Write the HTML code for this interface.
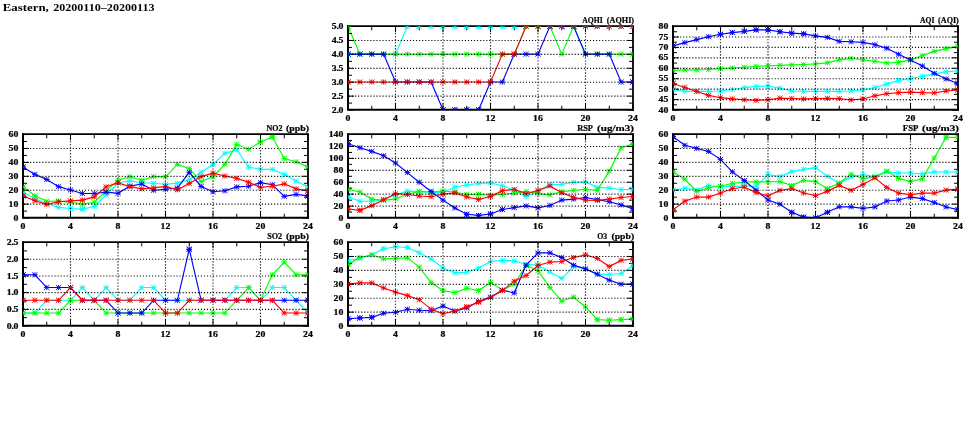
<!DOCTYPE html>
<html><head><meta charset="utf-8"><title>Eastern, 20200110-20200113</title>
<style>html,body{margin:0;padding:0;background:#fff;font-family:"Liberation Serif",serif}svg{display:block;will-change:transform;transform:translateZ(0)}</style>
</head><body>
<svg width="975" height="447" viewBox="0 0 975 447" font-family="'Liberation Serif', serif" font-weight="bold" fill="#000" stroke="#000" stroke-width="0.22"><defs><g id="m"><path d="M-2.6-2.4L2.6 2.4M-2.6 2.4L2.6-2.4M-2.8 0H2.8M0-2.5V2.5"/></g></defs>
<text x="2.8" y="10.7" font-size="10.9" stroke="none" textLength="46" lengthAdjust="spacingAndGlyphs">Eastern,</text>
<text x="53.2" y="10.7" font-size="10.9" stroke="none" textLength="101.3" lengthAdjust="spacingAndGlyphs">20200110–20200113</text>
<g><clipPath id="cp0"><rect x="348" y="26.3" width="285" height="83.5"/></clipPath><clipPath id="cp0b"><rect x="348.3" y="26.6" width="284.4" height="82.9"/></clipPath><g clip-path="url(#cp0)" fill="none" stroke-width="0.95"><g stroke="#00ffff"><polyline points="348,54.13 359.88,54.13 371.75,54.13 383.62,54.13 395.5,54.13 407.38,26.3 419.25,26.3 431.12,26.3 443,26.3 454.88,26.3 466.75,26.3 478.62,26.3 490.5,26.3 502.38,26.3 514.25,26.3 526.12,26.3 538,26.3 549.88,26.3 561.75,26.3 573.62,26.3 585.5,26.3 597.38,26.3 609.25,26.3 621.12,26.3 633,26.3" stroke-width="1.15"/><use href="#m" x="348" y="54.13"/><use href="#m" x="359.88" y="54.13"/><use href="#m" x="371.75" y="54.13"/><use href="#m" x="383.62" y="54.13"/><use href="#m" x="395.5" y="54.13"/><use href="#m" x="407.38" y="26.3"/><use href="#m" x="419.25" y="26.3"/><use href="#m" x="431.12" y="26.3"/><use href="#m" x="443" y="26.3"/><use href="#m" x="454.88" y="26.3"/><use href="#m" x="466.75" y="26.3"/><use href="#m" x="478.62" y="26.3"/><use href="#m" x="490.5" y="26.3"/><use href="#m" x="502.38" y="26.3"/><use href="#m" x="514.25" y="26.3"/><use href="#m" x="526.12" y="26.3"/><use href="#m" x="538" y="26.3"/><use href="#m" x="549.88" y="26.3"/><use href="#m" x="561.75" y="26.3"/><use href="#m" x="573.62" y="26.3"/><use href="#m" x="585.5" y="26.3"/><use href="#m" x="597.38" y="26.3"/><use href="#m" x="609.25" y="26.3"/><use href="#m" x="621.12" y="26.3"/><use href="#m" x="633" y="26.3"/></g><g stroke="#00ff00"><polyline points="348,26.3 359.88,54.13 371.75,54.13 383.62,54.13 395.5,54.13 407.38,54.13 419.25,54.13 431.12,54.13 443,54.13 454.88,54.13 466.75,54.13 478.62,54.13 490.5,54.13 502.38,54.13 514.25,54.13 526.12,26.3 538,26.3 549.88,26.3 561.75,54.13 573.62,26.3 585.5,54.13 597.38,54.13 609.25,54.13 621.12,54.13 633,54.13" stroke-width="1.15"/><use href="#m" x="348" y="26.3"/><use href="#m" x="359.88" y="54.13"/><use href="#m" x="371.75" y="54.13"/><use href="#m" x="383.62" y="54.13"/><use href="#m" x="395.5" y="54.13"/><use href="#m" x="407.38" y="54.13"/><use href="#m" x="419.25" y="54.13"/><use href="#m" x="431.12" y="54.13"/><use href="#m" x="443" y="54.13"/><use href="#m" x="454.88" y="54.13"/><use href="#m" x="466.75" y="54.13"/><use href="#m" x="478.62" y="54.13"/><use href="#m" x="490.5" y="54.13"/><use href="#m" x="502.38" y="54.13"/><use href="#m" x="514.25" y="54.13"/><use href="#m" x="526.12" y="26.3"/><use href="#m" x="538" y="26.3"/><use href="#m" x="549.88" y="26.3"/><use href="#m" x="561.75" y="54.13"/><use href="#m" x="573.62" y="26.3"/><use href="#m" x="585.5" y="54.13"/><use href="#m" x="597.38" y="54.13"/><use href="#m" x="609.25" y="54.13"/><use href="#m" x="621.12" y="54.13"/><use href="#m" x="633" y="54.13"/></g><g stroke="#0000ff"><polyline points="348,54.13 359.88,54.13 371.75,54.13 383.62,54.13 395.5,81.97 407.38,81.97 419.25,81.97 431.12,81.97 443,109.8 454.88,109.8 466.75,109.8 478.62,109.8 490.5,81.97 502.38,81.97 514.25,54.13 526.12,54.13 538,54.13 549.88,26.3 561.75,26.3 573.62,26.3 585.5,54.13 597.38,54.13 609.25,54.13 621.12,81.97 633,81.97" stroke-width="1.15"/><use href="#m" x="348" y="54.13"/><use href="#m" x="359.88" y="54.13"/><use href="#m" x="371.75" y="54.13"/><use href="#m" x="383.62" y="54.13"/><use href="#m" x="395.5" y="81.97"/><use href="#m" x="407.38" y="81.97"/><use href="#m" x="419.25" y="81.97"/><use href="#m" x="431.12" y="81.97"/><use href="#m" x="443" y="109.8"/><use href="#m" x="454.88" y="109.8"/><use href="#m" x="466.75" y="109.8"/><use href="#m" x="478.62" y="109.8"/><use href="#m" x="490.5" y="81.97"/><use href="#m" x="502.38" y="81.97"/><use href="#m" x="514.25" y="54.13"/><use href="#m" x="526.12" y="54.13"/><use href="#m" x="538" y="54.13"/><use href="#m" x="549.88" y="26.3"/><use href="#m" x="561.75" y="26.3"/><use href="#m" x="573.62" y="26.3"/><use href="#m" x="585.5" y="54.13"/><use href="#m" x="597.38" y="54.13"/><use href="#m" x="609.25" y="54.13"/><use href="#m" x="621.12" y="81.97"/><use href="#m" x="633" y="81.97"/></g><g stroke="#ff0000"><polyline points="348,81.97 359.88,81.97 371.75,81.97 383.62,81.97 395.5,81.97 407.38,81.97 419.25,81.97 431.12,81.97 443,81.97 454.88,81.97 466.75,81.97 478.62,81.97 490.5,81.97 502.38,54.13 514.25,54.13 526.12,26.3 538,26.3 549.88,26.3 561.75,26.3 573.62,26.3 585.5,26.3 597.38,26.3 609.25,26.3 621.12,26.3 633,26.3" stroke-width="1.15"/><use href="#m" x="348" y="81.97"/><use href="#m" x="359.88" y="81.97"/><use href="#m" x="371.75" y="81.97"/><use href="#m" x="383.62" y="81.97"/><use href="#m" x="395.5" y="81.97"/><use href="#m" x="407.38" y="81.97"/><use href="#m" x="419.25" y="81.97"/><use href="#m" x="431.12" y="81.97"/><use href="#m" x="443" y="81.97"/><use href="#m" x="454.88" y="81.97"/><use href="#m" x="466.75" y="81.97"/><use href="#m" x="478.62" y="81.97"/><use href="#m" x="490.5" y="81.97"/><use href="#m" x="502.38" y="54.13"/><use href="#m" x="514.25" y="54.13"/><use href="#m" x="526.12" y="26.3"/><use href="#m" x="538" y="26.3"/><use href="#m" x="549.88" y="26.3"/><use href="#m" x="561.75" y="26.3"/><use href="#m" x="573.62" y="26.3"/><use href="#m" x="585.5" y="26.3"/><use href="#m" x="597.38" y="26.3"/><use href="#m" x="609.25" y="26.3"/><use href="#m" x="621.12" y="26.3"/><use href="#m" x="633" y="26.3"/></g></g><path d="M348 25.4V110.8M347 109.8H634" stroke="#000" stroke-width="2" fill="none"/><path d="M347 26.2H633.9" stroke="#000" stroke-width="1.7" fill="none"/><path d="M633 25.4V110.8" stroke="#000" stroke-width="1.8" fill="none"/><path d="M348 110.05h6M633 110.05h-6M348 103.09h4M633 103.09h-4M348 96.13h6M633 96.13h-6M348 89.17h4M633 89.17h-4M348 82.22h6M633 82.22h-6M348 75.26h4M633 75.26h-4M348 68.3h6M633 68.3h-6M348 61.34h4M633 61.34h-4M348 54.38h6M633 54.38h-6M348 47.42h4M633 47.42h-4M348 40.47h6M633 40.47h-6M348 33.51h4M633 33.51h-4M348 26.55h6M633 26.55h-6M348 26.3v6M348 109.8v-6M371.75 26.3v4M371.75 109.8v-4M395.5 26.3v6M395.5 109.8v-6M419.25 26.3v4M419.25 109.8v-4M443 26.3v6M443 109.8v-6M466.75 26.3v4M466.75 109.8v-4M490.5 26.3v6M490.5 109.8v-6M514.25 26.3v4M514.25 109.8v-4M538 26.3v6M538 109.8v-6M561.75 26.3v4M561.75 109.8v-4M585.5 26.3v6M585.5 109.8v-6M609.25 26.3v4M609.25 109.8v-4M633 26.3v6M633 109.8v-6" stroke="#000" stroke-width="1" fill="none"/><g clip-path="url(#cp0b)" fill="none" stroke-width="0.95"><g stroke="#00ffff"><use href="#m" x="348" y="54.13"/><use href="#m" x="407.38" y="26.3"/><use href="#m" x="419.25" y="26.3"/><use href="#m" x="431.12" y="26.3"/><use href="#m" x="443" y="26.3"/><use href="#m" x="454.88" y="26.3"/><use href="#m" x="466.75" y="26.3"/><use href="#m" x="478.62" y="26.3"/><use href="#m" x="490.5" y="26.3"/><use href="#m" x="502.38" y="26.3"/><use href="#m" x="514.25" y="26.3"/><use href="#m" x="526.12" y="26.3"/><use href="#m" x="538" y="26.3"/><use href="#m" x="549.88" y="26.3"/><use href="#m" x="561.75" y="26.3"/><use href="#m" x="573.62" y="26.3"/><use href="#m" x="585.5" y="26.3"/><use href="#m" x="597.38" y="26.3"/><use href="#m" x="609.25" y="26.3"/><use href="#m" x="621.12" y="26.3"/><use href="#m" x="633" y="26.3"/></g><g stroke="#00ff00"><use href="#m" x="348" y="26.3"/><use href="#m" x="526.12" y="26.3"/><use href="#m" x="538" y="26.3"/><use href="#m" x="549.88" y="26.3"/><use href="#m" x="573.62" y="26.3"/><use href="#m" x="633" y="54.13"/></g><g stroke="#0000ff"><use href="#m" x="348" y="54.13"/><use href="#m" x="443" y="109.8"/><use href="#m" x="454.88" y="109.8"/><use href="#m" x="466.75" y="109.8"/><use href="#m" x="478.62" y="109.8"/><use href="#m" x="549.88" y="26.3"/><use href="#m" x="561.75" y="26.3"/><use href="#m" x="573.62" y="26.3"/><use href="#m" x="633" y="81.97"/></g><g stroke="#ff0000"><use href="#m" x="348" y="81.97"/><use href="#m" x="526.12" y="26.3"/><use href="#m" x="538" y="26.3"/><use href="#m" x="549.88" y="26.3"/><use href="#m" x="561.75" y="26.3"/><use href="#m" x="573.62" y="26.3"/><use href="#m" x="585.5" y="26.3"/><use href="#m" x="597.38" y="26.3"/><use href="#m" x="609.25" y="26.3"/><use href="#m" x="621.12" y="26.3"/><use href="#m" x="633" y="26.3"/></g></g><path d="M349 96.13H633M349 82.22H633M349 68.3H633M349 54.38H633M349 40.47H633" stroke="#000" stroke-width="1.15" stroke-dasharray="1.1 1.95" fill="none"/><path d="M395.5 27.1V109.8M443 27.1V109.8M490.5 27.1V109.8M538 27.1V109.8M585.5 27.1V109.8" stroke="#000" stroke-width="1.15" stroke-dasharray="1.1 1.93" fill="none"/><text transform="translate(343.4 112.6) scale(1.21 1)" text-anchor="end" font-size="8.1">2<tspan dx="-0.3">.</tspan><tspan dx="-0.3">0</tspan></text><text transform="translate(343.4 98.68) scale(1.21 1)" text-anchor="end" font-size="8.1">2<tspan dx="-0.3">.</tspan><tspan dx="-0.3">5</tspan></text><text transform="translate(343.4 84.77) scale(1.21 1)" text-anchor="end" font-size="8.1">3<tspan dx="-0.3">.</tspan><tspan dx="-0.3">0</tspan></text><text transform="translate(343.4 70.85) scale(1.21 1)" text-anchor="end" font-size="8.1">3<tspan dx="-0.3">.</tspan><tspan dx="-0.3">5</tspan></text><text transform="translate(343.4 56.93) scale(1.21 1)" text-anchor="end" font-size="8.1">4<tspan dx="-0.3">.</tspan><tspan dx="-0.3">0</tspan></text><text transform="translate(343.4 43.02) scale(1.21 1)" text-anchor="end" font-size="8.1">4<tspan dx="-0.3">.</tspan><tspan dx="-0.3">5</tspan></text><text transform="translate(343.4 29.1) scale(1.21 1)" text-anchor="end" font-size="8.1">5<tspan dx="-0.3">.</tspan><tspan dx="-0.3">0</tspan></text><text transform="translate(348 120.6) scale(1.21 1)" text-anchor="middle" font-size="8.1">0</text><text transform="translate(395.5 120.6) scale(1.21 1)" text-anchor="middle" font-size="8.1">4</text><text transform="translate(443 120.6) scale(1.21 1)" text-anchor="middle" font-size="8.1">8</text><text transform="translate(490.5 120.6) scale(1.21 1)" text-anchor="middle" font-size="8.1">12</text><text transform="translate(538 120.6) scale(1.21 1)" text-anchor="middle" font-size="8.1">16</text><text transform="translate(585.5 120.6) scale(1.21 1)" text-anchor="middle" font-size="8.1">20</text><text transform="translate(633 120.6) scale(1.21 1)" text-anchor="middle" font-size="8.1">24</text><text x="582.2" y="22.8" font-size="8.9" textLength="20.5" lengthAdjust="spacingAndGlyphs">AQHI</text><text x="606.8" y="22.8" font-size="8.9" textLength="27.3" lengthAdjust="spacingAndGlyphs">(AQHI)</text></g>
<g><clipPath id="cp1"><rect x="673" y="26.3" width="285" height="83.5"/></clipPath><clipPath id="cp1b"><rect x="673.3" y="26.6" width="284.4" height="82.9"/></clipPath><g clip-path="url(#cp1)" fill="none" stroke-width="0.95"><g stroke="#00ffff"><polyline points="673,89.55 684.88,91.43 696.75,91.43 708.62,91.43 720.5,91.01 732.38,89.55 744.25,87.67 756.12,86.42 768,86 779.88,88.09 791.75,91.01 803.62,91.43 815.5,91.43 827.38,91.43 839.25,91.43 851.12,91.01 863,89.97 874.88,87.46 886.75,84.12 898.62,80.37 910.5,78.49 922.38,76.4 934.25,73.89 946.12,71.81 958,70.76" stroke-width="1.15"/><use href="#m" x="673" y="89.55"/><use href="#m" x="684.88" y="91.43"/><use href="#m" x="696.75" y="91.43"/><use href="#m" x="708.62" y="91.43"/><use href="#m" x="720.5" y="91.01"/><use href="#m" x="732.38" y="89.55"/><use href="#m" x="744.25" y="87.67"/><use href="#m" x="756.12" y="86.42"/><use href="#m" x="768" y="86"/><use href="#m" x="779.88" y="88.09"/><use href="#m" x="791.75" y="91.01"/><use href="#m" x="803.62" y="91.43"/><use href="#m" x="815.5" y="91.43"/><use href="#m" x="827.38" y="91.43"/><use href="#m" x="839.25" y="91.43"/><use href="#m" x="851.12" y="91.01"/><use href="#m" x="863" y="89.97"/><use href="#m" x="874.88" y="87.46"/><use href="#m" x="886.75" y="84.12"/><use href="#m" x="898.62" y="80.37"/><use href="#m" x="910.5" y="78.49"/><use href="#m" x="922.38" y="76.4"/><use href="#m" x="934.25" y="73.89"/><use href="#m" x="946.12" y="71.81"/><use href="#m" x="958" y="70.76"/></g><g stroke="#00ff00"><polyline points="673,70.35 684.88,69.93 696.75,69.93 708.62,69.51 720.5,68.68 732.38,68.05 744.25,67.22 756.12,66.38 768,65.75 779.88,65.34 791.75,64.92 803.62,64.5 815.5,63.87 827.38,62.83 839.25,59.91 851.12,58.45 863,59.7 874.88,61.37 886.75,63.04 898.62,62.41 910.5,59.91 922.38,55.52 934.25,51.35 946.12,48.64 958,46.34" stroke-width="1.15"/><use href="#m" x="673" y="70.35"/><use href="#m" x="684.88" y="69.93"/><use href="#m" x="696.75" y="69.93"/><use href="#m" x="708.62" y="69.51"/><use href="#m" x="720.5" y="68.68"/><use href="#m" x="732.38" y="68.05"/><use href="#m" x="744.25" y="67.22"/><use href="#m" x="756.12" y="66.38"/><use href="#m" x="768" y="65.75"/><use href="#m" x="779.88" y="65.34"/><use href="#m" x="791.75" y="64.92"/><use href="#m" x="803.62" y="64.5"/><use href="#m" x="815.5" y="63.87"/><use href="#m" x="827.38" y="62.83"/><use href="#m" x="839.25" y="59.91"/><use href="#m" x="851.12" y="58.45"/><use href="#m" x="863" y="59.7"/><use href="#m" x="874.88" y="61.37"/><use href="#m" x="886.75" y="63.04"/><use href="#m" x="898.62" y="62.41"/><use href="#m" x="910.5" y="59.91"/><use href="#m" x="922.38" y="55.52"/><use href="#m" x="934.25" y="51.35"/><use href="#m" x="946.12" y="48.64"/><use href="#m" x="958" y="46.34"/></g><g stroke="#0000ff"><polyline points="673,45.92 684.88,42.58 696.75,39.66 708.62,36.74 720.5,34.23 732.38,32.56 744.25,31.31 756.12,29.85 768,29.85 779.88,31.73 791.75,33.19 803.62,33.81 815.5,35.9 827.38,37.36 839.25,41.33 851.12,41.75 863,42.37 874.88,44.67 886.75,48.22 898.62,54.27 910.5,59.91 922.38,65.96 934.25,73.27 946.12,78.91 958,83.5" stroke-width="1.15"/><use href="#m" x="673" y="45.92"/><use href="#m" x="684.88" y="42.58"/><use href="#m" x="696.75" y="39.66"/><use href="#m" x="708.62" y="36.74"/><use href="#m" x="720.5" y="34.23"/><use href="#m" x="732.38" y="32.56"/><use href="#m" x="744.25" y="31.31"/><use href="#m" x="756.12" y="29.85"/><use href="#m" x="768" y="29.85"/><use href="#m" x="779.88" y="31.73"/><use href="#m" x="791.75" y="33.19"/><use href="#m" x="803.62" y="33.81"/><use href="#m" x="815.5" y="35.9"/><use href="#m" x="827.38" y="37.36"/><use href="#m" x="839.25" y="41.33"/><use href="#m" x="851.12" y="41.75"/><use href="#m" x="863" y="42.37"/><use href="#m" x="874.88" y="44.67"/><use href="#m" x="886.75" y="48.22"/><use href="#m" x="898.62" y="54.27"/><use href="#m" x="910.5" y="59.91"/><use href="#m" x="922.38" y="65.96"/><use href="#m" x="934.25" y="73.27"/><use href="#m" x="946.12" y="78.91"/><use href="#m" x="958" y="83.5"/></g><g stroke="#ff0000"><polyline points="673,83.5 684.88,87.46 696.75,91.43 708.62,95.4 720.5,97.69 732.38,98.94 744.25,99.78 756.12,100.41 768,99.78 779.88,98.11 791.75,98.53 803.62,98.94 815.5,98.53 827.38,98.32 839.25,98.53 851.12,99.99 863,98.94 874.88,95.81 886.75,93.73 898.62,92.68 910.5,92.06 922.38,92.68 934.25,92.89 946.12,91.01 958,89.97" stroke-width="1.15"/><use href="#m" x="673" y="83.5"/><use href="#m" x="684.88" y="87.46"/><use href="#m" x="696.75" y="91.43"/><use href="#m" x="708.62" y="95.4"/><use href="#m" x="720.5" y="97.69"/><use href="#m" x="732.38" y="98.94"/><use href="#m" x="744.25" y="99.78"/><use href="#m" x="756.12" y="100.41"/><use href="#m" x="768" y="99.78"/><use href="#m" x="779.88" y="98.11"/><use href="#m" x="791.75" y="98.53"/><use href="#m" x="803.62" y="98.94"/><use href="#m" x="815.5" y="98.53"/><use href="#m" x="827.38" y="98.32"/><use href="#m" x="839.25" y="98.53"/><use href="#m" x="851.12" y="99.99"/><use href="#m" x="863" y="98.94"/><use href="#m" x="874.88" y="95.81"/><use href="#m" x="886.75" y="93.73"/><use href="#m" x="898.62" y="92.68"/><use href="#m" x="910.5" y="92.06"/><use href="#m" x="922.38" y="92.68"/><use href="#m" x="934.25" y="92.89"/><use href="#m" x="946.12" y="91.01"/><use href="#m" x="958" y="89.97"/></g></g><path d="M673 25.4V110.8M672 109.8H959" stroke="#000" stroke-width="2" fill="none"/><path d="M672 26.2H958.9" stroke="#000" stroke-width="1.7" fill="none"/><path d="M958 25.4V110.8" stroke="#000" stroke-width="1.8" fill="none"/><path d="M673 110.05h6M958 110.05h-6M673 104.83h4M958 104.83h-4M673 99.61h6M958 99.61h-6M673 94.39h4M958 94.39h-4M673 89.17h6M958 89.17h-6M673 83.96h4M958 83.96h-4M673 78.74h6M958 78.74h-6M673 73.52h4M958 73.52h-4M673 68.3h6M958 68.3h-6M673 63.08h4M958 63.08h-4M673 57.86h6M958 57.86h-6M673 52.64h4M958 52.64h-4M673 47.42h6M958 47.42h-6M673 42.21h4M958 42.21h-4M673 36.99h6M958 36.99h-6M673 31.77h4M958 31.77h-4M673 26.55h6M958 26.55h-6M673 26.3v6M673 109.8v-6M696.75 26.3v4M696.75 109.8v-4M720.5 26.3v6M720.5 109.8v-6M744.25 26.3v4M744.25 109.8v-4M768 26.3v6M768 109.8v-6M791.75 26.3v4M791.75 109.8v-4M815.5 26.3v6M815.5 109.8v-6M839.25 26.3v4M839.25 109.8v-4M863 26.3v6M863 109.8v-6M886.75 26.3v4M886.75 109.8v-4M910.5 26.3v6M910.5 109.8v-6M934.25 26.3v4M934.25 109.8v-4M958 26.3v6M958 109.8v-6" stroke="#000" stroke-width="1" fill="none"/><g clip-path="url(#cp1b)" fill="none" stroke-width="0.95"><g stroke="#00ffff"><use href="#m" x="673" y="89.55"/><use href="#m" x="958" y="70.76"/></g><g stroke="#00ff00"><use href="#m" x="673" y="70.35"/><use href="#m" x="958" y="46.34"/></g><g stroke="#0000ff"><use href="#m" x="673" y="45.92"/><use href="#m" x="720.5" y="34.23"/><use href="#m" x="732.38" y="32.56"/><use href="#m" x="744.25" y="31.31"/><use href="#m" x="756.12" y="29.85"/><use href="#m" x="768" y="29.85"/><use href="#m" x="779.88" y="31.73"/><use href="#m" x="791.75" y="33.19"/><use href="#m" x="803.62" y="33.81"/><use href="#m" x="958" y="83.5"/></g><g stroke="#ff0000"><use href="#m" x="673" y="83.5"/><use href="#m" x="958" y="89.97"/></g></g><path d="M674 99.61H958M674 89.17H958M674 78.74H958M674 68.3H958M674 57.86H958M674 47.42H958M674 36.99H958" stroke="#000" stroke-width="1.15" stroke-dasharray="1.1 1.95" fill="none"/><path d="M720.5 27.1V109.8M768 27.1V109.8M815.5 27.1V109.8M863 27.1V109.8M910.5 27.1V109.8" stroke="#000" stroke-width="1.15" stroke-dasharray="1.1 1.93" fill="none"/><text transform="translate(668.4 112.6) scale(1.21 1)" text-anchor="end" font-size="8.1">40</text><text transform="translate(668.4 102.16) scale(1.21 1)" text-anchor="end" font-size="8.1">45</text><text transform="translate(668.4 91.72) scale(1.21 1)" text-anchor="end" font-size="8.1">50</text><text transform="translate(668.4 81.29) scale(1.21 1)" text-anchor="end" font-size="8.1">55</text><text transform="translate(668.4 70.85) scale(1.21 1)" text-anchor="end" font-size="8.1">60</text><text transform="translate(668.4 60.41) scale(1.21 1)" text-anchor="end" font-size="8.1">65</text><text transform="translate(668.4 49.97) scale(1.21 1)" text-anchor="end" font-size="8.1">70</text><text transform="translate(668.4 39.54) scale(1.21 1)" text-anchor="end" font-size="8.1">75</text><text transform="translate(668.4 29.1) scale(1.21 1)" text-anchor="end" font-size="8.1">80</text><text transform="translate(673 120.6) scale(1.21 1)" text-anchor="middle" font-size="8.1">0</text><text transform="translate(720.5 120.6) scale(1.21 1)" text-anchor="middle" font-size="8.1">4</text><text transform="translate(768 120.6) scale(1.21 1)" text-anchor="middle" font-size="8.1">8</text><text transform="translate(815.5 120.6) scale(1.21 1)" text-anchor="middle" font-size="8.1">12</text><text transform="translate(863 120.6) scale(1.21 1)" text-anchor="middle" font-size="8.1">16</text><text transform="translate(910.5 120.6) scale(1.21 1)" text-anchor="middle" font-size="8.1">20</text><text transform="translate(958 120.6) scale(1.21 1)" text-anchor="middle" font-size="8.1">24</text><text x="920" y="22.8" font-size="8.9" textLength="14.4" lengthAdjust="spacingAndGlyphs">AQI</text><text x="938.1" y="22.8" font-size="8.9" textLength="20.7" lengthAdjust="spacingAndGlyphs">(AQI)</text></g>
<g><clipPath id="cp2"><rect x="23" y="134.3" width="285" height="83.5"/></clipPath><clipPath id="cp2b"><rect x="23.3" y="134.6" width="284.4" height="82.9"/></clipPath><g clip-path="url(#cp2)" fill="none" stroke-width="0.95"><g stroke="#00ffff"><polyline points="23,192.47 34.88,198.46 46.75,203.74 58.62,207.36 70.5,208.48 82.38,209.17 94.25,206.53 106.12,194.98 118,183.01 129.88,180.92 141.75,182.73 153.62,183.29 165.5,184.26 177.38,183.15 189.25,179.67 201.12,172.29 213,164.5 224.88,153.37 236.75,149.75 248.62,167 260.5,169.37 272.38,169.37 284.25,174.52 296.12,181.06 308,186.91" stroke-width="1.15"/><use href="#m" x="23" y="192.47"/><use href="#m" x="34.88" y="198.46"/><use href="#m" x="46.75" y="203.74"/><use href="#m" x="58.62" y="207.36"/><use href="#m" x="70.5" y="208.48"/><use href="#m" x="82.38" y="209.17"/><use href="#m" x="94.25" y="206.53"/><use href="#m" x="106.12" y="194.98"/><use href="#m" x="118" y="183.01"/><use href="#m" x="129.88" y="180.92"/><use href="#m" x="141.75" y="182.73"/><use href="#m" x="153.62" y="183.29"/><use href="#m" x="165.5" y="184.26"/><use href="#m" x="177.38" y="183.15"/><use href="#m" x="189.25" y="179.67"/><use href="#m" x="201.12" y="172.29"/><use href="#m" x="213" y="164.5"/><use href="#m" x="224.88" y="153.37"/><use href="#m" x="236.75" y="149.75"/><use href="#m" x="248.62" y="167"/><use href="#m" x="260.5" y="169.37"/><use href="#m" x="272.38" y="169.37"/><use href="#m" x="284.25" y="174.52"/><use href="#m" x="296.12" y="181.06"/><use href="#m" x="308" y="186.91"/></g><g stroke="#00ff00"><polyline points="23,186.77 34.88,195.67 46.75,201.24 58.62,201.1 70.5,202.07 82.38,204.16 94.25,202.21 106.12,190.94 118,180.23 129.88,176.61 141.75,180.23 153.62,176.61 165.5,176.89 177.38,164.36 189.25,168.67 201.12,181.62 213,176.75 224.88,164.36 236.75,144.46 248.62,149.19 260.5,141.95 272.38,136.94 284.25,158.52 296.12,161.72 308,167" stroke-width="1.15"/><use href="#m" x="23" y="186.77"/><use href="#m" x="34.88" y="195.67"/><use href="#m" x="46.75" y="201.24"/><use href="#m" x="58.62" y="201.1"/><use href="#m" x="70.5" y="202.07"/><use href="#m" x="82.38" y="204.16"/><use href="#m" x="94.25" y="202.21"/><use href="#m" x="106.12" y="190.94"/><use href="#m" x="118" y="180.23"/><use href="#m" x="129.88" y="176.61"/><use href="#m" x="141.75" y="180.23"/><use href="#m" x="153.62" y="176.61"/><use href="#m" x="165.5" y="176.89"/><use href="#m" x="177.38" y="164.36"/><use href="#m" x="189.25" y="168.67"/><use href="#m" x="201.12" y="181.62"/><use href="#m" x="213" y="176.75"/><use href="#m" x="224.88" y="164.36"/><use href="#m" x="236.75" y="144.46"/><use href="#m" x="248.62" y="149.19"/><use href="#m" x="260.5" y="141.95"/><use href="#m" x="272.38" y="136.94"/><use href="#m" x="284.25" y="158.52"/><use href="#m" x="296.12" y="161.72"/><use href="#m" x="308" y="167"/></g><g stroke="#0000ff"><polyline points="23,167 34.88,174.38 46.75,179.53 58.62,186.63 70.5,189.97 82.38,193.45 94.25,193.45 106.12,192.19 118,193.31 129.88,186.07 141.75,183.98 153.62,190.25 165.5,189.27 177.38,188.02 189.25,172.29 201.12,186.49 213,191.78 224.88,190.8 236.75,186.91 248.62,186.21 260.5,182.59 272.38,184.68 284.25,196.37 296.12,194.42 308,195.95" stroke-width="1.15"/><use href="#m" x="23" y="167"/><use href="#m" x="34.88" y="174.38"/><use href="#m" x="46.75" y="179.53"/><use href="#m" x="58.62" y="186.63"/><use href="#m" x="70.5" y="189.97"/><use href="#m" x="82.38" y="193.45"/><use href="#m" x="94.25" y="193.45"/><use href="#m" x="106.12" y="192.19"/><use href="#m" x="118" y="193.31"/><use href="#m" x="129.88" y="186.07"/><use href="#m" x="141.75" y="183.98"/><use href="#m" x="153.62" y="190.25"/><use href="#m" x="165.5" y="189.27"/><use href="#m" x="177.38" y="188.02"/><use href="#m" x="189.25" y="172.29"/><use href="#m" x="201.12" y="186.49"/><use href="#m" x="213" y="191.78"/><use href="#m" x="224.88" y="190.8"/><use href="#m" x="236.75" y="186.91"/><use href="#m" x="248.62" y="186.21"/><use href="#m" x="260.5" y="182.59"/><use href="#m" x="272.38" y="184.68"/><use href="#m" x="284.25" y="196.37"/><use href="#m" x="296.12" y="194.42"/><use href="#m" x="308" y="195.95"/></g><g stroke="#ff0000"><polyline points="23,195.81 34.88,200.68 46.75,204.3 58.62,201.8 70.5,200.82 82.38,200.13 94.25,196.93 106.12,186.77 118,182.87 129.88,186.63 141.75,188.85 153.62,187.88 165.5,186.35 177.38,189.83 189.25,183.43 201.12,176.61 213,173.13 224.88,176.05 236.75,178.42 248.62,182.31 260.5,187.32 272.38,186.21 284.25,183.84 296.12,188.85 308,190.8" stroke-width="1.15"/><use href="#m" x="23" y="195.81"/><use href="#m" x="34.88" y="200.68"/><use href="#m" x="46.75" y="204.3"/><use href="#m" x="58.62" y="201.8"/><use href="#m" x="70.5" y="200.82"/><use href="#m" x="82.38" y="200.13"/><use href="#m" x="94.25" y="196.93"/><use href="#m" x="106.12" y="186.77"/><use href="#m" x="118" y="182.87"/><use href="#m" x="129.88" y="186.63"/><use href="#m" x="141.75" y="188.85"/><use href="#m" x="153.62" y="187.88"/><use href="#m" x="165.5" y="186.35"/><use href="#m" x="177.38" y="189.83"/><use href="#m" x="189.25" y="183.43"/><use href="#m" x="201.12" y="176.61"/><use href="#m" x="213" y="173.13"/><use href="#m" x="224.88" y="176.05"/><use href="#m" x="236.75" y="178.42"/><use href="#m" x="248.62" y="182.31"/><use href="#m" x="260.5" y="187.32"/><use href="#m" x="272.38" y="186.21"/><use href="#m" x="284.25" y="183.84"/><use href="#m" x="296.12" y="188.85"/><use href="#m" x="308" y="190.8"/></g></g><path d="M23 133.4V218.8M22 217.8H309" stroke="#000" stroke-width="2" fill="none"/><path d="M22 134.2H308.9" stroke="#000" stroke-width="1.7" fill="none"/><path d="M308 133.4V218.8" stroke="#000" stroke-width="1.8" fill="none"/><path d="M23 218.05h6M308 218.05h-6M23 211.09h4M308 211.09h-4M23 204.13h6M308 204.13h-6M23 197.18h4M308 197.18h-4M23 190.22h6M308 190.22h-6M23 183.26h4M308 183.26h-4M23 176.3h6M308 176.3h-6M23 169.34h4M308 169.34h-4M23 162.38h6M308 162.38h-6M23 155.43h4M308 155.43h-4M23 148.47h6M308 148.47h-6M23 141.51h4M308 141.51h-4M23 134.55h6M308 134.55h-6M23 134.3v6M23 217.8v-6M46.75 134.3v4M46.75 217.8v-4M70.5 134.3v6M70.5 217.8v-6M94.25 134.3v4M94.25 217.8v-4M118 134.3v6M118 217.8v-6M141.75 134.3v4M141.75 217.8v-4M165.5 134.3v6M165.5 217.8v-6M189.25 134.3v4M189.25 217.8v-4M213 134.3v6M213 217.8v-6M236.75 134.3v4M236.75 217.8v-4M260.5 134.3v6M260.5 217.8v-6M284.25 134.3v4M284.25 217.8v-4M308 134.3v6M308 217.8v-6" stroke="#000" stroke-width="1" fill="none"/><g clip-path="url(#cp2b)" fill="none" stroke-width="0.95"><g stroke="#00ffff"><use href="#m" x="23" y="192.47"/><use href="#m" x="82.38" y="209.17"/><use href="#m" x="308" y="186.91"/></g><g stroke="#00ff00"><use href="#m" x="23" y="186.77"/><use href="#m" x="260.5" y="141.95"/><use href="#m" x="272.38" y="136.94"/><use href="#m" x="308" y="167"/></g><g stroke="#0000ff"><use href="#m" x="23" y="167"/><use href="#m" x="308" y="195.95"/></g><g stroke="#ff0000"><use href="#m" x="23" y="195.81"/><use href="#m" x="308" y="190.8"/></g></g><path d="M24 204.13H308M24 190.22H308M24 176.3H308M24 162.38H308M24 148.47H308" stroke="#000" stroke-width="1.15" stroke-dasharray="1.1 1.95" fill="none"/><path d="M70.5 135.1V217.8M118 135.1V217.8M165.5 135.1V217.8M213 135.1V217.8M260.5 135.1V217.8" stroke="#000" stroke-width="1.15" stroke-dasharray="1.1 1.93" fill="none"/><text transform="translate(18.4 220.6) scale(1.21 1)" text-anchor="end" font-size="8.1">0</text><text transform="translate(18.4 206.68) scale(1.21 1)" text-anchor="end" font-size="8.1">10</text><text transform="translate(18.4 192.77) scale(1.21 1)" text-anchor="end" font-size="8.1">20</text><text transform="translate(18.4 178.85) scale(1.21 1)" text-anchor="end" font-size="8.1">30</text><text transform="translate(18.4 164.93) scale(1.21 1)" text-anchor="end" font-size="8.1">40</text><text transform="translate(18.4 151.02) scale(1.21 1)" text-anchor="end" font-size="8.1">50</text><text transform="translate(18.4 137.1) scale(1.21 1)" text-anchor="end" font-size="8.1">60</text><text transform="translate(23 228.6) scale(1.21 1)" text-anchor="middle" font-size="8.1">0</text><text transform="translate(70.5 228.6) scale(1.21 1)" text-anchor="middle" font-size="8.1">4</text><text transform="translate(118 228.6) scale(1.21 1)" text-anchor="middle" font-size="8.1">8</text><text transform="translate(165.5 228.6) scale(1.21 1)" text-anchor="middle" font-size="8.1">12</text><text transform="translate(213 228.6) scale(1.21 1)" text-anchor="middle" font-size="8.1">16</text><text transform="translate(260.5 228.6) scale(1.21 1)" text-anchor="middle" font-size="8.1">20</text><text transform="translate(308 228.6) scale(1.21 1)" text-anchor="middle" font-size="8.1">24</text><text x="266.4" y="130.8" font-size="8.9" textLength="16" lengthAdjust="spacingAndGlyphs">NO2</text><text x="286.1" y="130.8" font-size="8.9" textLength="23" lengthAdjust="spacingAndGlyphs">(ppb)</text></g>
<g><clipPath id="cp3"><rect x="348" y="134.3" width="285" height="83.5"/></clipPath><clipPath id="cp3b"><rect x="348.3" y="134.6" width="284.4" height="82.9"/></clipPath><g clip-path="url(#cp3)" fill="none" stroke-width="0.95"><g stroke="#00ffff"><polyline points="348,196.87 359.88,201.22 371.75,201.22 383.62,199.67 395.5,194.96 407.38,191.14 419.25,191.68 431.12,192.39 443,192.33 454.88,186.96 466.75,185 478.62,183.39 490.5,183.03 502.38,185.83 514.25,190.36 526.12,196.45 538,190.96 549.88,184.64 561.75,184.22 573.62,182.31 585.5,181.95 597.38,187.38 609.25,188.1 621.12,189.71 633,189.35" stroke-width="1.15"/><use href="#m" x="348" y="196.87"/><use href="#m" x="359.88" y="201.22"/><use href="#m" x="371.75" y="201.22"/><use href="#m" x="383.62" y="199.67"/><use href="#m" x="395.5" y="194.96"/><use href="#m" x="407.38" y="191.14"/><use href="#m" x="419.25" y="191.68"/><use href="#m" x="431.12" y="192.39"/><use href="#m" x="443" y="192.33"/><use href="#m" x="454.88" y="186.96"/><use href="#m" x="466.75" y="185"/><use href="#m" x="478.62" y="183.39"/><use href="#m" x="490.5" y="183.03"/><use href="#m" x="502.38" y="185.83"/><use href="#m" x="514.25" y="190.36"/><use href="#m" x="526.12" y="196.45"/><use href="#m" x="538" y="190.96"/><use href="#m" x="549.88" y="184.64"/><use href="#m" x="561.75" y="184.22"/><use href="#m" x="573.62" y="182.31"/><use href="#m" x="585.5" y="181.95"/><use href="#m" x="597.38" y="187.38"/><use href="#m" x="609.25" y="188.1"/><use href="#m" x="621.12" y="189.71"/><use href="#m" x="633" y="189.35"/></g><g stroke="#00ff00"><polyline points="348,189.41 359.88,191.97 371.75,199.07 383.62,200.44 395.5,198.83 407.38,194.18 419.25,191.32 431.12,191.97 443,190.96 454.88,191.97 466.75,194.54 478.62,194.24 490.5,195.31 502.38,194.24 514.25,193.11 526.12,191.44 538,193.59 549.88,194.84 561.75,191.56 573.62,190.36 585.5,189.41 597.38,190.36 609.25,171.1 621.12,147.96 633,143.9" stroke-width="1.15"/><use href="#m" x="348" y="189.41"/><use href="#m" x="359.88" y="191.97"/><use href="#m" x="371.75" y="199.07"/><use href="#m" x="383.62" y="200.44"/><use href="#m" x="395.5" y="198.83"/><use href="#m" x="407.38" y="194.18"/><use href="#m" x="419.25" y="191.32"/><use href="#m" x="431.12" y="191.97"/><use href="#m" x="443" y="190.96"/><use href="#m" x="454.88" y="191.97"/><use href="#m" x="466.75" y="194.54"/><use href="#m" x="478.62" y="194.24"/><use href="#m" x="490.5" y="195.31"/><use href="#m" x="502.38" y="194.24"/><use href="#m" x="514.25" y="193.11"/><use href="#m" x="526.12" y="191.44"/><use href="#m" x="538" y="193.59"/><use href="#m" x="549.88" y="194.84"/><use href="#m" x="561.75" y="191.56"/><use href="#m" x="573.62" y="190.36"/><use href="#m" x="585.5" y="189.41"/><use href="#m" x="597.38" y="190.36"/><use href="#m" x="609.25" y="171.1"/><use href="#m" x="621.12" y="147.96"/><use href="#m" x="633" y="143.9"/></g><g stroke="#0000ff"><polyline points="348,143.72 359.88,147.72 371.75,151.36 383.62,155.77 395.5,162.99 407.38,172.59 419.25,182.19 431.12,191.44 443,200.15 454.88,207.96 466.75,214.28 478.62,215.41 490.5,213.98 502.38,209.51 514.25,207.6 526.12,205.93 538,207.9 549.88,205.45 561.75,200.09 573.62,199.07 585.5,197.52 597.38,199.61 609.25,201.7 621.12,204.92 633,208.67" stroke-width="1.15"/><use href="#m" x="348" y="143.72"/><use href="#m" x="359.88" y="147.72"/><use href="#m" x="371.75" y="151.36"/><use href="#m" x="383.62" y="155.77"/><use href="#m" x="395.5" y="162.99"/><use href="#m" x="407.38" y="172.59"/><use href="#m" x="419.25" y="182.19"/><use href="#m" x="431.12" y="191.44"/><use href="#m" x="443" y="200.15"/><use href="#m" x="454.88" y="207.96"/><use href="#m" x="466.75" y="214.28"/><use href="#m" x="478.62" y="215.41"/><use href="#m" x="490.5" y="213.98"/><use href="#m" x="502.38" y="209.51"/><use href="#m" x="514.25" y="207.6"/><use href="#m" x="526.12" y="205.93"/><use href="#m" x="538" y="207.9"/><use href="#m" x="549.88" y="205.45"/><use href="#m" x="561.75" y="200.09"/><use href="#m" x="573.62" y="199.07"/><use href="#m" x="585.5" y="197.52"/><use href="#m" x="597.38" y="199.61"/><use href="#m" x="609.25" y="201.7"/><use href="#m" x="621.12" y="204.92"/><use href="#m" x="633" y="208.67"/></g><g stroke="#ff0000"><polyline points="348,209.03 359.88,210.29 371.75,205.63 383.62,199.67 395.5,193.7 407.38,194.54 419.25,196.03 431.12,196.69 443,194.18 454.88,192.87 466.75,196.98 478.62,199.43 490.5,196.45 502.38,190.66 514.25,189.41 526.12,193.64 538,190.48 549.88,185.95 561.75,192.81 573.62,197.34 585.5,200.15 597.38,200.44 609.25,199.13 621.12,197.52 633,196.51" stroke-width="1.15"/><use href="#m" x="348" y="209.03"/><use href="#m" x="359.88" y="210.29"/><use href="#m" x="371.75" y="205.63"/><use href="#m" x="383.62" y="199.67"/><use href="#m" x="395.5" y="193.7"/><use href="#m" x="407.38" y="194.54"/><use href="#m" x="419.25" y="196.03"/><use href="#m" x="431.12" y="196.69"/><use href="#m" x="443" y="194.18"/><use href="#m" x="454.88" y="192.87"/><use href="#m" x="466.75" y="196.98"/><use href="#m" x="478.62" y="199.43"/><use href="#m" x="490.5" y="196.45"/><use href="#m" x="502.38" y="190.66"/><use href="#m" x="514.25" y="189.41"/><use href="#m" x="526.12" y="193.64"/><use href="#m" x="538" y="190.48"/><use href="#m" x="549.88" y="185.95"/><use href="#m" x="561.75" y="192.81"/><use href="#m" x="573.62" y="197.34"/><use href="#m" x="585.5" y="200.15"/><use href="#m" x="597.38" y="200.44"/><use href="#m" x="609.25" y="199.13"/><use href="#m" x="621.12" y="197.52"/><use href="#m" x="633" y="196.51"/></g></g><path d="M348 133.4V218.8M347 217.8H634" stroke="#000" stroke-width="2" fill="none"/><path d="M347 134.2H633.9" stroke="#000" stroke-width="1.7" fill="none"/><path d="M633 133.4V218.8" stroke="#000" stroke-width="1.8" fill="none"/><path d="M348 218.05h6M633 218.05h-6M348 212.09h4M633 212.09h-4M348 206.12h6M633 206.12h-6M348 200.16h4M633 200.16h-4M348 194.19h6M633 194.19h-6M348 188.23h4M633 188.23h-4M348 182.26h6M633 182.26h-6M348 176.3h4M633 176.3h-4M348 170.34h6M633 170.34h-6M348 164.37h4M633 164.37h-4M348 158.41h6M633 158.41h-6M348 152.44h4M633 152.44h-4M348 146.48h6M633 146.48h-6M348 140.51h4M633 140.51h-4M348 134.55h6M633 134.55h-6M348 134.3v6M348 217.8v-6M371.75 134.3v4M371.75 217.8v-4M395.5 134.3v6M395.5 217.8v-6M419.25 134.3v4M419.25 217.8v-4M443 134.3v6M443 217.8v-6M466.75 134.3v4M466.75 217.8v-4M490.5 134.3v6M490.5 217.8v-6M514.25 134.3v4M514.25 217.8v-4M538 134.3v6M538 217.8v-6M561.75 134.3v4M561.75 217.8v-4M585.5 134.3v6M585.5 217.8v-6M609.25 134.3v4M609.25 217.8v-4M633 134.3v6M633 217.8v-6" stroke="#000" stroke-width="1" fill="none"/><g clip-path="url(#cp3b)" fill="none" stroke-width="0.95"><g stroke="#00ffff"><use href="#m" x="348" y="196.87"/><use href="#m" x="633" y="189.35"/></g><g stroke="#00ff00"><use href="#m" x="348" y="189.41"/><use href="#m" x="633" y="143.9"/></g><g stroke="#0000ff"><use href="#m" x="348" y="143.72"/><use href="#m" x="466.75" y="214.28"/><use href="#m" x="478.62" y="215.41"/><use href="#m" x="490.5" y="213.98"/><use href="#m" x="502.38" y="209.51"/><use href="#m" x="633" y="208.67"/></g><g stroke="#ff0000"><use href="#m" x="348" y="209.03"/><use href="#m" x="359.88" y="210.29"/><use href="#m" x="633" y="196.51"/></g></g><path d="M349 206.12H633M349 194.19H633M349 182.26H633M349 170.34H633M349 158.41H633M349 146.48H633" stroke="#000" stroke-width="1.15" stroke-dasharray="1.1 1.95" fill="none"/><path d="M395.5 135.1V217.8M443 135.1V217.8M490.5 135.1V217.8M538 135.1V217.8M585.5 135.1V217.8" stroke="#000" stroke-width="1.15" stroke-dasharray="1.1 1.93" fill="none"/><text transform="translate(343.4 220.6) scale(1.21 1)" text-anchor="end" font-size="8.1">0</text><text transform="translate(343.4 208.67) scale(1.21 1)" text-anchor="end" font-size="8.1">20</text><text transform="translate(343.4 196.74) scale(1.21 1)" text-anchor="end" font-size="8.1">40</text><text transform="translate(343.4 184.81) scale(1.21 1)" text-anchor="end" font-size="8.1">60</text><text transform="translate(343.4 172.89) scale(1.21 1)" text-anchor="end" font-size="8.1">80</text><text transform="translate(343.4 160.96) scale(1.21 1)" text-anchor="end" font-size="8.1">100</text><text transform="translate(343.4 149.03) scale(1.21 1)" text-anchor="end" font-size="8.1">120</text><text transform="translate(343.4 137.1) scale(1.21 1)" text-anchor="end" font-size="8.1">140</text><text transform="translate(348 228.6) scale(1.21 1)" text-anchor="middle" font-size="8.1">0</text><text transform="translate(395.5 228.6) scale(1.21 1)" text-anchor="middle" font-size="8.1">4</text><text transform="translate(443 228.6) scale(1.21 1)" text-anchor="middle" font-size="8.1">8</text><text transform="translate(490.5 228.6) scale(1.21 1)" text-anchor="middle" font-size="8.1">12</text><text transform="translate(538 228.6) scale(1.21 1)" text-anchor="middle" font-size="8.1">16</text><text transform="translate(585.5 228.6) scale(1.21 1)" text-anchor="middle" font-size="8.1">20</text><text transform="translate(633 228.6) scale(1.21 1)" text-anchor="middle" font-size="8.1">24</text><text x="577.2" y="130.8" font-size="8.9" textLength="15.8" lengthAdjust="spacingAndGlyphs">RSP</text><text x="597.1" y="130.8" font-size="8.9" textLength="36.9" lengthAdjust="spacingAndGlyphs">(ug/m3)</text></g>
<g><clipPath id="cp4"><rect x="673" y="134.3" width="285" height="83.5"/></clipPath><clipPath id="cp4b"><rect x="673.3" y="134.6" width="284.4" height="82.9"/></clipPath><g clip-path="url(#cp4)" fill="none" stroke-width="0.95"><g stroke="#00ffff"><polyline points="673,190.25 684.88,188.16 696.75,189.83 708.62,185.65 720.5,186.63 732.38,186.21 744.25,185.93 756.12,186.21 768,174.52 779.88,176.61 791.75,171.6 803.62,169.37 815.5,167.56 827.38,176.33 839.25,183.29 851.12,177.02 863,174.52 874.88,176.89 886.75,171.88 898.62,172.99 910.5,172.99 922.38,173.82 934.25,171.88 946.12,172.01 958,172.01" stroke-width="1.15"/><use href="#m" x="673" y="190.25"/><use href="#m" x="684.88" y="188.16"/><use href="#m" x="696.75" y="189.83"/><use href="#m" x="708.62" y="185.65"/><use href="#m" x="720.5" y="186.63"/><use href="#m" x="732.38" y="186.21"/><use href="#m" x="744.25" y="185.93"/><use href="#m" x="756.12" y="186.21"/><use href="#m" x="768" y="174.52"/><use href="#m" x="779.88" y="176.61"/><use href="#m" x="791.75" y="171.6"/><use href="#m" x="803.62" y="169.37"/><use href="#m" x="815.5" y="167.56"/><use href="#m" x="827.38" y="176.33"/><use href="#m" x="839.25" y="183.29"/><use href="#m" x="851.12" y="177.02"/><use href="#m" x="863" y="174.52"/><use href="#m" x="874.88" y="176.89"/><use href="#m" x="886.75" y="171.88"/><use href="#m" x="898.62" y="172.99"/><use href="#m" x="910.5" y="172.99"/><use href="#m" x="922.38" y="173.82"/><use href="#m" x="934.25" y="171.88"/><use href="#m" x="946.12" y="172.01"/><use href="#m" x="958" y="172.01"/></g><g stroke="#00ff00"><polyline points="673,171.74 684.88,179.25 696.75,191.5 708.62,187.74 720.5,186.21 732.38,183.29 744.25,182.03 756.12,181.9 768,181.76 779.88,181.62 791.75,185.37 803.62,180.36 815.5,181.62 827.38,188.58 839.25,183.01 851.12,174.24 863,178.69 874.88,176.89 886.75,171.04 898.62,178.42 910.5,181.48 922.38,178.83 934.25,157.96 946.12,137.36 958,137.36" stroke-width="1.15"/><use href="#m" x="673" y="171.74"/><use href="#m" x="684.88" y="179.25"/><use href="#m" x="696.75" y="191.5"/><use href="#m" x="708.62" y="187.74"/><use href="#m" x="720.5" y="186.21"/><use href="#m" x="732.38" y="183.29"/><use href="#m" x="744.25" y="182.03"/><use href="#m" x="756.12" y="181.9"/><use href="#m" x="768" y="181.76"/><use href="#m" x="779.88" y="181.62"/><use href="#m" x="791.75" y="185.37"/><use href="#m" x="803.62" y="180.36"/><use href="#m" x="815.5" y="181.62"/><use href="#m" x="827.38" y="188.58"/><use href="#m" x="839.25" y="183.01"/><use href="#m" x="851.12" y="174.24"/><use href="#m" x="863" y="178.69"/><use href="#m" x="874.88" y="176.89"/><use href="#m" x="886.75" y="171.04"/><use href="#m" x="898.62" y="178.42"/><use href="#m" x="910.5" y="181.48"/><use href="#m" x="922.38" y="178.83"/><use href="#m" x="934.25" y="157.96"/><use href="#m" x="946.12" y="137.36"/><use href="#m" x="958" y="137.36"/></g><g stroke="#0000ff"><polyline points="673,136.67 684.88,145.29 696.75,148.36 708.62,151.42 720.5,159.35 732.38,171.88 744.25,180.5 756.12,190.25 768,199.99 779.88,204.16 791.75,212.23 803.62,217.1 815.5,217.8 827.38,212.23 839.25,206.81 851.12,206.81 863,208.34 874.88,206.95 886.75,200.96 898.62,199.99 910.5,197.06 922.38,198.59 934.25,202.49 946.12,206.95 958,209.59" stroke-width="1.15"/><use href="#m" x="673" y="136.67"/><use href="#m" x="684.88" y="145.29"/><use href="#m" x="696.75" y="148.36"/><use href="#m" x="708.62" y="151.42"/><use href="#m" x="720.5" y="159.35"/><use href="#m" x="732.38" y="171.88"/><use href="#m" x="744.25" y="180.5"/><use href="#m" x="756.12" y="190.25"/><use href="#m" x="768" y="199.99"/><use href="#m" x="779.88" y="204.16"/><use href="#m" x="791.75" y="212.23"/><use href="#m" x="803.62" y="217.1"/><use href="#m" x="815.5" y="217.8"/><use href="#m" x="827.38" y="212.23"/><use href="#m" x="839.25" y="206.81"/><use href="#m" x="851.12" y="206.81"/><use href="#m" x="863" y="208.34"/><use href="#m" x="874.88" y="206.95"/><use href="#m" x="886.75" y="200.96"/><use href="#m" x="898.62" y="199.99"/><use href="#m" x="910.5" y="197.06"/><use href="#m" x="922.38" y="198.59"/><use href="#m" x="934.25" y="202.49"/><use href="#m" x="946.12" y="206.95"/><use href="#m" x="958" y="209.59"/></g><g stroke="#ff0000"><polyline points="673,209.87 684.88,201.1 696.75,197.06 708.62,197.06 720.5,193.03 732.38,188.71 744.25,187.04 756.12,192.61 768,195.81 779.88,190.38 791.75,188.58 803.62,193.03 815.5,195.67 827.38,191.36 839.25,185.37 851.12,190.38 863,184.4 874.88,177.86 886.75,187.46 898.62,193.17 910.5,194.56 922.38,193.17 934.25,193.17 946.12,190.11 958,189.13" stroke-width="1.15"/><use href="#m" x="673" y="209.87"/><use href="#m" x="684.88" y="201.1"/><use href="#m" x="696.75" y="197.06"/><use href="#m" x="708.62" y="197.06"/><use href="#m" x="720.5" y="193.03"/><use href="#m" x="732.38" y="188.71"/><use href="#m" x="744.25" y="187.04"/><use href="#m" x="756.12" y="192.61"/><use href="#m" x="768" y="195.81"/><use href="#m" x="779.88" y="190.38"/><use href="#m" x="791.75" y="188.58"/><use href="#m" x="803.62" y="193.03"/><use href="#m" x="815.5" y="195.67"/><use href="#m" x="827.38" y="191.36"/><use href="#m" x="839.25" y="185.37"/><use href="#m" x="851.12" y="190.38"/><use href="#m" x="863" y="184.4"/><use href="#m" x="874.88" y="177.86"/><use href="#m" x="886.75" y="187.46"/><use href="#m" x="898.62" y="193.17"/><use href="#m" x="910.5" y="194.56"/><use href="#m" x="922.38" y="193.17"/><use href="#m" x="934.25" y="193.17"/><use href="#m" x="946.12" y="190.11"/><use href="#m" x="958" y="189.13"/></g></g><path d="M673 133.4V218.8M672 217.8H959" stroke="#000" stroke-width="2" fill="none"/><path d="M672 134.2H958.9" stroke="#000" stroke-width="1.7" fill="none"/><path d="M958 133.4V218.8" stroke="#000" stroke-width="1.8" fill="none"/><path d="M673 218.05h6M958 218.05h-6M673 211.09h4M958 211.09h-4M673 204.13h6M958 204.13h-6M673 197.18h4M958 197.18h-4M673 190.22h6M958 190.22h-6M673 183.26h4M958 183.26h-4M673 176.3h6M958 176.3h-6M673 169.34h4M958 169.34h-4M673 162.38h6M958 162.38h-6M673 155.43h4M958 155.43h-4M673 148.47h6M958 148.47h-6M673 141.51h4M958 141.51h-4M673 134.55h6M958 134.55h-6M673 134.3v6M673 217.8v-6M696.75 134.3v4M696.75 217.8v-4M720.5 134.3v6M720.5 217.8v-6M744.25 134.3v4M744.25 217.8v-4M768 134.3v6M768 217.8v-6M791.75 134.3v4M791.75 217.8v-4M815.5 134.3v6M815.5 217.8v-6M839.25 134.3v4M839.25 217.8v-4M863 134.3v6M863 217.8v-6M886.75 134.3v4M886.75 217.8v-4M910.5 134.3v6M910.5 217.8v-6M934.25 134.3v4M934.25 217.8v-4M958 134.3v6M958 217.8v-6" stroke="#000" stroke-width="1" fill="none"/><g clip-path="url(#cp4b)" fill="none" stroke-width="0.95"><g stroke="#00ffff"><use href="#m" x="673" y="190.25"/><use href="#m" x="958" y="172.01"/></g><g stroke="#00ff00"><use href="#m" x="673" y="171.74"/><use href="#m" x="946.12" y="137.36"/><use href="#m" x="958" y="137.36"/></g><g stroke="#0000ff"><use href="#m" x="673" y="136.67"/><use href="#m" x="791.75" y="212.23"/><use href="#m" x="803.62" y="217.1"/><use href="#m" x="815.5" y="217.8"/><use href="#m" x="827.38" y="212.23"/><use href="#m" x="958" y="209.59"/></g><g stroke="#ff0000"><use href="#m" x="673" y="209.87"/><use href="#m" x="958" y="189.13"/></g></g><path d="M674 204.13H958M674 190.22H958M674 176.3H958M674 162.38H958M674 148.47H958" stroke="#000" stroke-width="1.15" stroke-dasharray="1.1 1.95" fill="none"/><path d="M720.5 135.1V217.8M768 135.1V217.8M815.5 135.1V217.8M863 135.1V217.8M910.5 135.1V217.8" stroke="#000" stroke-width="1.15" stroke-dasharray="1.1 1.93" fill="none"/><text transform="translate(668.4 220.6) scale(1.21 1)" text-anchor="end" font-size="8.1">0</text><text transform="translate(668.4 206.68) scale(1.21 1)" text-anchor="end" font-size="8.1">10</text><text transform="translate(668.4 192.77) scale(1.21 1)" text-anchor="end" font-size="8.1">20</text><text transform="translate(668.4 178.85) scale(1.21 1)" text-anchor="end" font-size="8.1">30</text><text transform="translate(668.4 164.93) scale(1.21 1)" text-anchor="end" font-size="8.1">40</text><text transform="translate(668.4 151.02) scale(1.21 1)" text-anchor="end" font-size="8.1">50</text><text transform="translate(668.4 137.1) scale(1.21 1)" text-anchor="end" font-size="8.1">60</text><text transform="translate(673 228.6) scale(1.21 1)" text-anchor="middle" font-size="8.1">0</text><text transform="translate(720.5 228.6) scale(1.21 1)" text-anchor="middle" font-size="8.1">4</text><text transform="translate(768 228.6) scale(1.21 1)" text-anchor="middle" font-size="8.1">8</text><text transform="translate(815.5 228.6) scale(1.21 1)" text-anchor="middle" font-size="8.1">12</text><text transform="translate(863 228.6) scale(1.21 1)" text-anchor="middle" font-size="8.1">16</text><text transform="translate(910.5 228.6) scale(1.21 1)" text-anchor="middle" font-size="8.1">20</text><text transform="translate(958 228.6) scale(1.21 1)" text-anchor="middle" font-size="8.1">24</text><text x="902.8" y="130.8" font-size="8.9" textLength="15.6" lengthAdjust="spacingAndGlyphs">FSP</text><text x="922.1" y="130.8" font-size="8.9" textLength="36.9" lengthAdjust="spacingAndGlyphs">(ug/m3)</text></g>
<g><clipPath id="cp5"><rect x="23" y="242.3" width="285" height="83.5"/></clipPath><clipPath id="cp5b"><rect x="23.3" y="242.6" width="284.4" height="82.9"/></clipPath><g clip-path="url(#cp5)" fill="none" stroke-width="0.95"><g stroke="#00ffff"><polyline points="23,313.04 34.88,313.04 46.75,300.28 58.62,300.28 70.5,300.28 82.38,287.52 94.25,300.28 106.12,287.52 118,300.28 129.88,300.28 141.75,287.52 153.62,287.52 165.5,300.28 177.38,300.28 189.25,300.28 201.12,300.28 213,300.28 224.88,300.28 236.75,287.52 248.62,287.52 260.5,300.28 272.38,287.52 284.25,287.52 296.12,300.28 308,313.04" stroke-width="1.15"/><use href="#m" x="23" y="313.04"/><use href="#m" x="34.88" y="313.04"/><use href="#m" x="46.75" y="300.28"/><use href="#m" x="58.62" y="300.28"/><use href="#m" x="70.5" y="300.28"/><use href="#m" x="82.38" y="287.52"/><use href="#m" x="94.25" y="300.28"/><use href="#m" x="106.12" y="287.52"/><use href="#m" x="118" y="300.28"/><use href="#m" x="129.88" y="300.28"/><use href="#m" x="141.75" y="287.52"/><use href="#m" x="153.62" y="287.52"/><use href="#m" x="165.5" y="300.28"/><use href="#m" x="177.38" y="300.28"/><use href="#m" x="189.25" y="300.28"/><use href="#m" x="201.12" y="300.28"/><use href="#m" x="213" y="300.28"/><use href="#m" x="224.88" y="300.28"/><use href="#m" x="236.75" y="287.52"/><use href="#m" x="248.62" y="287.52"/><use href="#m" x="260.5" y="300.28"/><use href="#m" x="272.38" y="287.52"/><use href="#m" x="284.25" y="287.52"/><use href="#m" x="296.12" y="300.28"/><use href="#m" x="308" y="313.04"/></g><g stroke="#00ff00"><polyline points="23,313.04 34.88,313.04 46.75,313.04 58.62,313.04 70.5,300.28 82.38,300.28 94.25,300.28 106.12,313.04 118,313.04 129.88,313.04 141.75,313.04 153.62,313.04 165.5,313.04 177.38,313.04 189.25,313.04 201.12,313.04 213,313.04 224.88,313.04 236.75,300.28 248.62,287.52 260.5,300.28 272.38,274.76 284.25,262.01 296.12,274.76 308,274.76" stroke-width="1.15"/><use href="#m" x="23" y="313.04"/><use href="#m" x="34.88" y="313.04"/><use href="#m" x="46.75" y="313.04"/><use href="#m" x="58.62" y="313.04"/><use href="#m" x="70.5" y="300.28"/><use href="#m" x="82.38" y="300.28"/><use href="#m" x="94.25" y="300.28"/><use href="#m" x="106.12" y="313.04"/><use href="#m" x="118" y="313.04"/><use href="#m" x="129.88" y="313.04"/><use href="#m" x="141.75" y="313.04"/><use href="#m" x="153.62" y="313.04"/><use href="#m" x="165.5" y="313.04"/><use href="#m" x="177.38" y="313.04"/><use href="#m" x="189.25" y="313.04"/><use href="#m" x="201.12" y="313.04"/><use href="#m" x="213" y="313.04"/><use href="#m" x="224.88" y="313.04"/><use href="#m" x="236.75" y="300.28"/><use href="#m" x="248.62" y="287.52"/><use href="#m" x="260.5" y="300.28"/><use href="#m" x="272.38" y="274.76"/><use href="#m" x="284.25" y="262.01"/><use href="#m" x="296.12" y="274.76"/><use href="#m" x="308" y="274.76"/></g><g stroke="#0000ff"><polyline points="23,274.76 34.88,274.76 46.75,287.52 58.62,287.52 70.5,287.52 82.38,300.28 94.25,300.28 106.12,300.28 118,313.04 129.88,313.04 141.75,313.04 153.62,300.28 165.5,300.28 177.38,300.28 189.25,249.25 201.12,300.28 213,300.28 224.88,300.28 236.75,300.28 248.62,300.28 260.5,300.28 272.38,300.28 284.25,300.28 296.12,300.28 308,300.28" stroke-width="1.15"/><use href="#m" x="23" y="274.76"/><use href="#m" x="34.88" y="274.76"/><use href="#m" x="46.75" y="287.52"/><use href="#m" x="58.62" y="287.52"/><use href="#m" x="70.5" y="287.52"/><use href="#m" x="82.38" y="300.28"/><use href="#m" x="94.25" y="300.28"/><use href="#m" x="106.12" y="300.28"/><use href="#m" x="118" y="313.04"/><use href="#m" x="129.88" y="313.04"/><use href="#m" x="141.75" y="313.04"/><use href="#m" x="153.62" y="300.28"/><use href="#m" x="165.5" y="300.28"/><use href="#m" x="177.38" y="300.28"/><use href="#m" x="189.25" y="249.25"/><use href="#m" x="201.12" y="300.28"/><use href="#m" x="213" y="300.28"/><use href="#m" x="224.88" y="300.28"/><use href="#m" x="236.75" y="300.28"/><use href="#m" x="248.62" y="300.28"/><use href="#m" x="260.5" y="300.28"/><use href="#m" x="272.38" y="300.28"/><use href="#m" x="284.25" y="300.28"/><use href="#m" x="296.12" y="300.28"/><use href="#m" x="308" y="300.28"/></g><g stroke="#ff0000"><polyline points="23,300.28 34.88,300.28 46.75,300.28 58.62,300.28 70.5,287.52 82.38,300.28 94.25,300.28 106.12,300.28 118,300.28 129.88,300.28 141.75,300.28 153.62,300.28 165.5,313.04 177.38,313.04 189.25,300.28 201.12,300.28 213,300.28 224.88,300.28 236.75,300.28 248.62,300.28 260.5,300.28 272.38,300.28 284.25,313.04 296.12,313.04 308,313.04" stroke-width="1.15"/><use href="#m" x="23" y="300.28"/><use href="#m" x="34.88" y="300.28"/><use href="#m" x="46.75" y="300.28"/><use href="#m" x="58.62" y="300.28"/><use href="#m" x="70.5" y="287.52"/><use href="#m" x="82.38" y="300.28"/><use href="#m" x="94.25" y="300.28"/><use href="#m" x="106.12" y="300.28"/><use href="#m" x="118" y="300.28"/><use href="#m" x="129.88" y="300.28"/><use href="#m" x="141.75" y="300.28"/><use href="#m" x="153.62" y="300.28"/><use href="#m" x="165.5" y="313.04"/><use href="#m" x="177.38" y="313.04"/><use href="#m" x="189.25" y="300.28"/><use href="#m" x="201.12" y="300.28"/><use href="#m" x="213" y="300.28"/><use href="#m" x="224.88" y="300.28"/><use href="#m" x="236.75" y="300.28"/><use href="#m" x="248.62" y="300.28"/><use href="#m" x="260.5" y="300.28"/><use href="#m" x="272.38" y="300.28"/><use href="#m" x="284.25" y="313.04"/><use href="#m" x="296.12" y="313.04"/><use href="#m" x="308" y="313.04"/></g></g><path d="M23 241.4V326.8M22 325.8H309" stroke="#000" stroke-width="2" fill="none"/><path d="M22 242.2H308.9" stroke="#000" stroke-width="1.7" fill="none"/><path d="M308 241.4V326.8" stroke="#000" stroke-width="1.8" fill="none"/><path d="M23 326.05h6M308 326.05h-6M23 317.7h4M308 317.7h-4M23 309.35h6M308 309.35h-6M23 301h4M308 301h-4M23 292.65h6M308 292.65h-6M23 284.3h4M308 284.3h-4M23 275.95h6M308 275.95h-6M23 267.6h4M308 267.6h-4M23 259.25h6M308 259.25h-6M23 250.9h4M308 250.9h-4M23 242.55h6M308 242.55h-6M23 242.3v6M23 325.8v-6M46.75 242.3v4M46.75 325.8v-4M70.5 242.3v6M70.5 325.8v-6M94.25 242.3v4M94.25 325.8v-4M118 242.3v6M118 325.8v-6M141.75 242.3v4M141.75 325.8v-4M165.5 242.3v6M165.5 325.8v-6M189.25 242.3v4M189.25 325.8v-4M213 242.3v6M213 325.8v-6M236.75 242.3v4M236.75 325.8v-4M260.5 242.3v6M260.5 325.8v-6M284.25 242.3v4M284.25 325.8v-4M308 242.3v6M308 325.8v-6" stroke="#000" stroke-width="1" fill="none"/><g clip-path="url(#cp5b)" fill="none" stroke-width="0.95"><g stroke="#00ffff"><use href="#m" x="23" y="313.04"/><use href="#m" x="308" y="313.04"/></g><g stroke="#00ff00"><use href="#m" x="23" y="313.04"/><use href="#m" x="308" y="274.76"/></g><g stroke="#0000ff"><use href="#m" x="23" y="274.76"/><use href="#m" x="189.25" y="249.25"/><use href="#m" x="308" y="300.28"/></g><g stroke="#ff0000"><use href="#m" x="23" y="300.28"/><use href="#m" x="308" y="313.04"/></g></g><path d="M24 309.35H308M24 292.65H308M24 275.95H308M24 259.25H308" stroke="#000" stroke-width="1.15" stroke-dasharray="1.1 1.95" fill="none"/><path d="M70.5 243.1V325.8M118 243.1V325.8M165.5 243.1V325.8M213 243.1V325.8M260.5 243.1V325.8" stroke="#000" stroke-width="1.15" stroke-dasharray="1.1 1.93" fill="none"/><text transform="translate(18.4 328.6) scale(1.21 1)" text-anchor="end" font-size="8.1">0<tspan dx="-0.3">.</tspan><tspan dx="-0.3">0</tspan></text><text transform="translate(18.4 311.9) scale(1.21 1)" text-anchor="end" font-size="8.1">0<tspan dx="-0.3">.</tspan><tspan dx="-0.3">5</tspan></text><text transform="translate(18.4 295.2) scale(1.21 1)" text-anchor="end" font-size="8.1">1<tspan dx="-0.3">.</tspan><tspan dx="-0.3">0</tspan></text><text transform="translate(18.4 278.5) scale(1.21 1)" text-anchor="end" font-size="8.1">1<tspan dx="-0.3">.</tspan><tspan dx="-0.3">5</tspan></text><text transform="translate(18.4 261.8) scale(1.21 1)" text-anchor="end" font-size="8.1">2<tspan dx="-0.3">.</tspan><tspan dx="-0.3">0</tspan></text><text transform="translate(18.4 245.1) scale(1.21 1)" text-anchor="end" font-size="8.1">2<tspan dx="-0.3">.</tspan><tspan dx="-0.3">5</tspan></text><text transform="translate(23 336.6) scale(1.21 1)" text-anchor="middle" font-size="8.1">0</text><text transform="translate(70.5 336.6) scale(1.21 1)" text-anchor="middle" font-size="8.1">4</text><text transform="translate(118 336.6) scale(1.21 1)" text-anchor="middle" font-size="8.1">8</text><text transform="translate(165.5 336.6) scale(1.21 1)" text-anchor="middle" font-size="8.1">12</text><text transform="translate(213 336.6) scale(1.21 1)" text-anchor="middle" font-size="8.1">16</text><text transform="translate(260.5 336.6) scale(1.21 1)" text-anchor="middle" font-size="8.1">20</text><text transform="translate(308 336.6) scale(1.21 1)" text-anchor="middle" font-size="8.1">24</text><text x="267.2" y="238.8" font-size="8.9" textLength="15" lengthAdjust="spacingAndGlyphs">SO2</text><text x="286.1" y="238.8" font-size="8.9" textLength="23" lengthAdjust="spacingAndGlyphs">(ppb)</text></g>
<g><clipPath id="cp6"><rect x="348" y="242.3" width="285" height="83.5"/></clipPath><clipPath id="cp6b"><rect x="348.3" y="242.6" width="284.4" height="82.9"/></clipPath><g clip-path="url(#cp6)" fill="none" stroke-width="0.95"><g stroke="#00ffff"><polyline points="348,260.53 359.88,258.44 371.75,254.83 383.62,248.84 395.5,246.75 407.38,247.45 419.25,252.88 431.12,259 443,268.05 454.88,272.92 466.75,272.08 478.62,268.05 490.5,261.5 502.38,260.39 514.25,260.81 526.12,264.43 538,265.12 549.88,272.08 561.75,278.48 573.62,266.51 585.5,268.88 597.38,274.17 609.25,274.45 621.12,273.47 633,265.54" stroke-width="1.15"/><use href="#m" x="348" y="260.53"/><use href="#m" x="359.88" y="258.44"/><use href="#m" x="371.75" y="254.83"/><use href="#m" x="383.62" y="248.84"/><use href="#m" x="395.5" y="246.75"/><use href="#m" x="407.38" y="247.45"/><use href="#m" x="419.25" y="252.88"/><use href="#m" x="431.12" y="259"/><use href="#m" x="443" y="268.05"/><use href="#m" x="454.88" y="272.92"/><use href="#m" x="466.75" y="272.08"/><use href="#m" x="478.62" y="268.05"/><use href="#m" x="490.5" y="261.5"/><use href="#m" x="502.38" y="260.39"/><use href="#m" x="514.25" y="260.81"/><use href="#m" x="526.12" y="264.43"/><use href="#m" x="538" y="265.12"/><use href="#m" x="549.88" y="272.08"/><use href="#m" x="561.75" y="278.48"/><use href="#m" x="573.62" y="266.51"/><use href="#m" x="585.5" y="268.88"/><use href="#m" x="597.38" y="274.17"/><use href="#m" x="609.25" y="274.45"/><use href="#m" x="621.12" y="273.47"/><use href="#m" x="633" y="265.54"/></g><g stroke="#00ff00"><polyline points="348,264.43 359.88,257.47 371.75,254.83 383.62,258.86 395.5,258.44 407.38,257.89 419.25,267.07 431.12,282.52 443,290.59 454.88,292.54 466.75,288.23 478.62,290.59 490.5,282.52 502.38,290.17 514.25,284.19 526.12,265.54 538,270.55 549.88,287.53 561.75,301.17 573.62,296.99 585.5,307.01 597.38,319.68 609.25,320.23 621.12,319.68 633,319.12" stroke-width="1.15"/><use href="#m" x="348" y="264.43"/><use href="#m" x="359.88" y="257.47"/><use href="#m" x="371.75" y="254.83"/><use href="#m" x="383.62" y="258.86"/><use href="#m" x="395.5" y="258.44"/><use href="#m" x="407.38" y="257.89"/><use href="#m" x="419.25" y="267.07"/><use href="#m" x="431.12" y="282.52"/><use href="#m" x="443" y="290.59"/><use href="#m" x="454.88" y="292.54"/><use href="#m" x="466.75" y="288.23"/><use href="#m" x="478.62" y="290.59"/><use href="#m" x="490.5" y="282.52"/><use href="#m" x="502.38" y="290.17"/><use href="#m" x="514.25" y="284.19"/><use href="#m" x="526.12" y="265.54"/><use href="#m" x="538" y="270.55"/><use href="#m" x="549.88" y="287.53"/><use href="#m" x="561.75" y="301.17"/><use href="#m" x="573.62" y="296.99"/><use href="#m" x="585.5" y="307.01"/><use href="#m" x="597.38" y="319.68"/><use href="#m" x="609.25" y="320.23"/><use href="#m" x="621.12" y="319.68"/><use href="#m" x="633" y="319.12"/></g><g stroke="#0000ff"><polyline points="348,318.7 359.88,318.01 371.75,317.31 383.62,313.28 395.5,312.3 407.38,309.24 419.25,310.21 431.12,310.63 443,306.04 454.88,311.05 466.75,307.99 478.62,301.59 490.5,297.13 502.38,290.17 514.25,292.96 526.12,265.12 538,252.88 549.88,252.88 561.75,257.47 573.62,265.12 585.5,268.88 597.38,274.17 609.25,280.15 621.12,284.19 633,284.19" stroke-width="1.15"/><use href="#m" x="348" y="318.7"/><use href="#m" x="359.88" y="318.01"/><use href="#m" x="371.75" y="317.31"/><use href="#m" x="383.62" y="313.28"/><use href="#m" x="395.5" y="312.3"/><use href="#m" x="407.38" y="309.24"/><use href="#m" x="419.25" y="310.21"/><use href="#m" x="431.12" y="310.63"/><use href="#m" x="443" y="306.04"/><use href="#m" x="454.88" y="311.05"/><use href="#m" x="466.75" y="307.99"/><use href="#m" x="478.62" y="301.59"/><use href="#m" x="490.5" y="297.13"/><use href="#m" x="502.38" y="290.17"/><use href="#m" x="514.25" y="292.96"/><use href="#m" x="526.12" y="265.12"/><use href="#m" x="538" y="252.88"/><use href="#m" x="549.88" y="252.88"/><use href="#m" x="561.75" y="257.47"/><use href="#m" x="573.62" y="265.12"/><use href="#m" x="585.5" y="268.88"/><use href="#m" x="597.38" y="274.17"/><use href="#m" x="609.25" y="280.15"/><use href="#m" x="621.12" y="284.19"/><use href="#m" x="633" y="284.19"/></g><g stroke="#ff0000"><polyline points="348,284.19 359.88,282.94 371.75,282.94 383.62,287.95 395.5,292.12 407.38,295.6 419.25,299.64 431.12,309.1 443,313.69 454.88,311.05 466.75,306.6 478.62,302.28 490.5,297.55 502.38,290.59 514.25,281.13 526.12,275.56 538,265.54 549.88,262.06 561.75,261.5 573.62,257.47 585.5,254.83 597.38,258.44 609.25,266.51 621.12,260.39 633,259" stroke-width="1.15"/><use href="#m" x="348" y="284.19"/><use href="#m" x="359.88" y="282.94"/><use href="#m" x="371.75" y="282.94"/><use href="#m" x="383.62" y="287.95"/><use href="#m" x="395.5" y="292.12"/><use href="#m" x="407.38" y="295.6"/><use href="#m" x="419.25" y="299.64"/><use href="#m" x="431.12" y="309.1"/><use href="#m" x="443" y="313.69"/><use href="#m" x="454.88" y="311.05"/><use href="#m" x="466.75" y="306.6"/><use href="#m" x="478.62" y="302.28"/><use href="#m" x="490.5" y="297.55"/><use href="#m" x="502.38" y="290.59"/><use href="#m" x="514.25" y="281.13"/><use href="#m" x="526.12" y="275.56"/><use href="#m" x="538" y="265.54"/><use href="#m" x="549.88" y="262.06"/><use href="#m" x="561.75" y="261.5"/><use href="#m" x="573.62" y="257.47"/><use href="#m" x="585.5" y="254.83"/><use href="#m" x="597.38" y="258.44"/><use href="#m" x="609.25" y="266.51"/><use href="#m" x="621.12" y="260.39"/><use href="#m" x="633" y="259"/></g></g><path d="M348 241.4V326.8M347 325.8H634" stroke="#000" stroke-width="2" fill="none"/><path d="M347 242.2H633.9" stroke="#000" stroke-width="1.7" fill="none"/><path d="M633 241.4V326.8" stroke="#000" stroke-width="1.8" fill="none"/><path d="M348 326.05h6M633 326.05h-6M348 319.09h4M633 319.09h-4M348 312.13h6M633 312.13h-6M348 305.18h4M633 305.18h-4M348 298.22h6M633 298.22h-6M348 291.26h4M633 291.26h-4M348 284.3h6M633 284.3h-6M348 277.34h4M633 277.34h-4M348 270.38h6M633 270.38h-6M348 263.43h4M633 263.43h-4M348 256.47h6M633 256.47h-6M348 249.51h4M633 249.51h-4M348 242.55h6M633 242.55h-6M348 242.3v6M348 325.8v-6M371.75 242.3v4M371.75 325.8v-4M395.5 242.3v6M395.5 325.8v-6M419.25 242.3v4M419.25 325.8v-4M443 242.3v6M443 325.8v-6M466.75 242.3v4M466.75 325.8v-4M490.5 242.3v6M490.5 325.8v-6M514.25 242.3v4M514.25 325.8v-4M538 242.3v6M538 325.8v-6M561.75 242.3v4M561.75 325.8v-4M585.5 242.3v6M585.5 325.8v-6M609.25 242.3v4M609.25 325.8v-4M633 242.3v6M633 325.8v-6" stroke="#000" stroke-width="1" fill="none"/><g clip-path="url(#cp6b)" fill="none" stroke-width="0.95"><g stroke="#00ffff"><use href="#m" x="348" y="260.53"/><use href="#m" x="383.62" y="248.84"/><use href="#m" x="395.5" y="246.75"/><use href="#m" x="407.38" y="247.45"/><use href="#m" x="633" y="265.54"/></g><g stroke="#00ff00"><use href="#m" x="348" y="264.43"/><use href="#m" x="597.38" y="319.68"/><use href="#m" x="609.25" y="320.23"/><use href="#m" x="621.12" y="319.68"/><use href="#m" x="633" y="319.12"/></g><g stroke="#0000ff"><use href="#m" x="348" y="318.7"/><use href="#m" x="359.88" y="318.01"/><use href="#m" x="371.75" y="317.31"/><use href="#m" x="633" y="284.19"/></g><g stroke="#ff0000"><use href="#m" x="348" y="284.19"/><use href="#m" x="633" y="259"/></g></g><path d="M349 312.13H633M349 298.22H633M349 284.3H633M349 270.38H633M349 256.47H633" stroke="#000" stroke-width="1.15" stroke-dasharray="1.1 1.95" fill="none"/><path d="M395.5 243.1V325.8M443 243.1V325.8M490.5 243.1V325.8M538 243.1V325.8M585.5 243.1V325.8" stroke="#000" stroke-width="1.15" stroke-dasharray="1.1 1.93" fill="none"/><text transform="translate(343.4 328.6) scale(1.21 1)" text-anchor="end" font-size="8.1">0</text><text transform="translate(343.4 314.68) scale(1.21 1)" text-anchor="end" font-size="8.1">10</text><text transform="translate(343.4 300.77) scale(1.21 1)" text-anchor="end" font-size="8.1">20</text><text transform="translate(343.4 286.85) scale(1.21 1)" text-anchor="end" font-size="8.1">30</text><text transform="translate(343.4 272.93) scale(1.21 1)" text-anchor="end" font-size="8.1">40</text><text transform="translate(343.4 259.02) scale(1.21 1)" text-anchor="end" font-size="8.1">50</text><text transform="translate(343.4 245.1) scale(1.21 1)" text-anchor="end" font-size="8.1">60</text><text transform="translate(348 336.6) scale(1.21 1)" text-anchor="middle" font-size="8.1">0</text><text transform="translate(395.5 336.6) scale(1.21 1)" text-anchor="middle" font-size="8.1">4</text><text transform="translate(443 336.6) scale(1.21 1)" text-anchor="middle" font-size="8.1">8</text><text transform="translate(490.5 336.6) scale(1.21 1)" text-anchor="middle" font-size="8.1">12</text><text transform="translate(538 336.6) scale(1.21 1)" text-anchor="middle" font-size="8.1">16</text><text transform="translate(585.5 336.6) scale(1.21 1)" text-anchor="middle" font-size="8.1">20</text><text transform="translate(633 336.6) scale(1.21 1)" text-anchor="middle" font-size="8.1">24</text><text x="597.3" y="238.8" font-size="8.9" textLength="9.9" lengthAdjust="spacingAndGlyphs">O3</text><text x="611.5" y="238.8" font-size="8.9" textLength="22.6" lengthAdjust="spacingAndGlyphs">(ppb)</text></g></svg>
</body></html>
